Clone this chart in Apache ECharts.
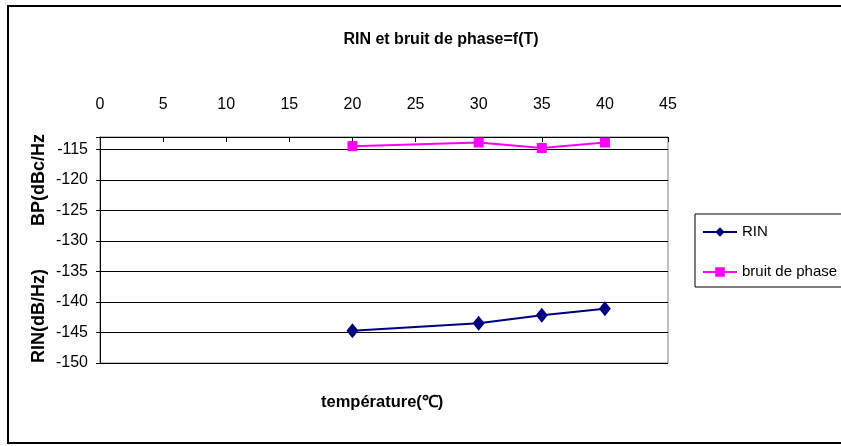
<!DOCTYPE html>
<html><head><meta charset="utf-8">
<script src="https://cdn.jsdelivr.net/npm/echarts@6/dist/echarts.min.js"></script>
<style>html,body{margin:0;padding:0;background:#fff}#c{width:841px;height:446px}</style>
</head><body><div id="c"></div>
<script>
const temperatures = [20, 30, 35, 40];
const rinValues = [-144.7, -143.5, -142.2, -141.1];
const phaseNoiseValues = [-114.5, -113.9, -114.8, -113.9];
const xTicks = [0, 5, 10, 15, 20, 25, 30, 35, 40, 45];
const yTicks = [-150, -145, -140, -135, -130, -125, -120, -115];

const chart = echarts.init(document.getElementById('c'));
const F = 'Liberation Sans, Arial, sans-serif';
chart.setOption({
  animation: false,
  backgroundColor: '#fff',
  textStyle: {fontFamily: F},
  title: {
    text: 'RIN et bruit de phase=f(T)', left: 436, top: 27, textAlign: 'center',
    textStyle: {fontFamily: F, fontSize: 16, fontWeight: 'bold', color: '#000'}
  },
  graphic: [
    {type: 'rect', shape: {x: 8, y: 6, width: 900, height: 437}, style: {fill: 'none', stroke: '#000', lineWidth: 2}, silent: true, z: 0},
    {type: 'text', left: 321, top: 394, style: {text: 'température(℃)', font: 'bold 16.5px ' + F, fill: '#000'}},
    {type: 'text', x: 39, y: 316, rotation: Math.PI / 2, style: {text: 'RIN(dB/Hz)', font: 'bold 18px ' + F, fill: '#000', align: 'center', verticalAlign: 'middle'}},
    {type: 'text', x: 39, y: 180, rotation: Math.PI / 2, style: {text: 'BP(dBc/Hz', font: 'bold 18px ' + F, fill: '#000', align: 'center', verticalAlign: 'middle'}}
  ],
  legend: {
    orient: 'vertical', left: 695, top: 214,
    data: ['RIN', 'bruit de phase'],
    borderColor: '#000', borderWidth: 1, padding: [9, 40, 6, 7],
    itemWidth: 34, itemHeight: 12, itemGap: 22,
    textStyle: {fontFamily: F, fontSize: 15, lineHeight: 18, color: '#000'}
  },
  grid: {left: 100, right: 173, top: 137, bottom: 83, show: true, borderColor: '#808080', borderWidth: 1},
  xAxis: {
    type: 'value', position: 'top', min: 0, max: 45, interval: 5,
    axisLine: {show: true, onZero: false, lineStyle: {color: '#000', width: 1}},
    axisTick: {show: true, inside: true, length: 5, lineStyle: {color: '#000'}},
    axisLabel: {margin: 24, fontSize: 16, color: '#000', fontFamily: F,
      formatter: v => xTicks.includes(v) ? String(v) : ''},
    splitLine: {show: false}
  },
  yAxis: {
    type: 'value', min: -150, max: -113, interval: 5,
    axisLine: {show: true, lineStyle: {color: '#000', width: 1}},
    axisTick: {show: true, length: 4, lineStyle: {color: '#000'}},
    axisLabel: {fontSize: 16, color: '#000', fontFamily: F, margin: 12,
      formatter: v => yTicks.includes(v) ? String(v) : ''},
    splitLine: {show: true, lineStyle: {color: '#000', width: 1}}
  },
  series: [
    {name: 'RIN', type: 'line', data: temperatures.map((t, i) => [t, rinValues[i]]),
     symbol: 'diamond', symbolSize: [12, 15], color: '#000080',
     lineStyle: {color: '#000080', width: 2}, itemStyle: {color: '#000080'}},
    {name: 'bruit de phase', type: 'line', data: temperatures.map((t, i) => [t, phaseNoiseValues[i]]),
     symbol: 'rect', symbolSize: 10, color: '#FF00FF',
     lineStyle: {color: '#FF00FF', width: 2}, itemStyle: {color: '#FF00FF'}}
  ]
});
</script></body></html>
